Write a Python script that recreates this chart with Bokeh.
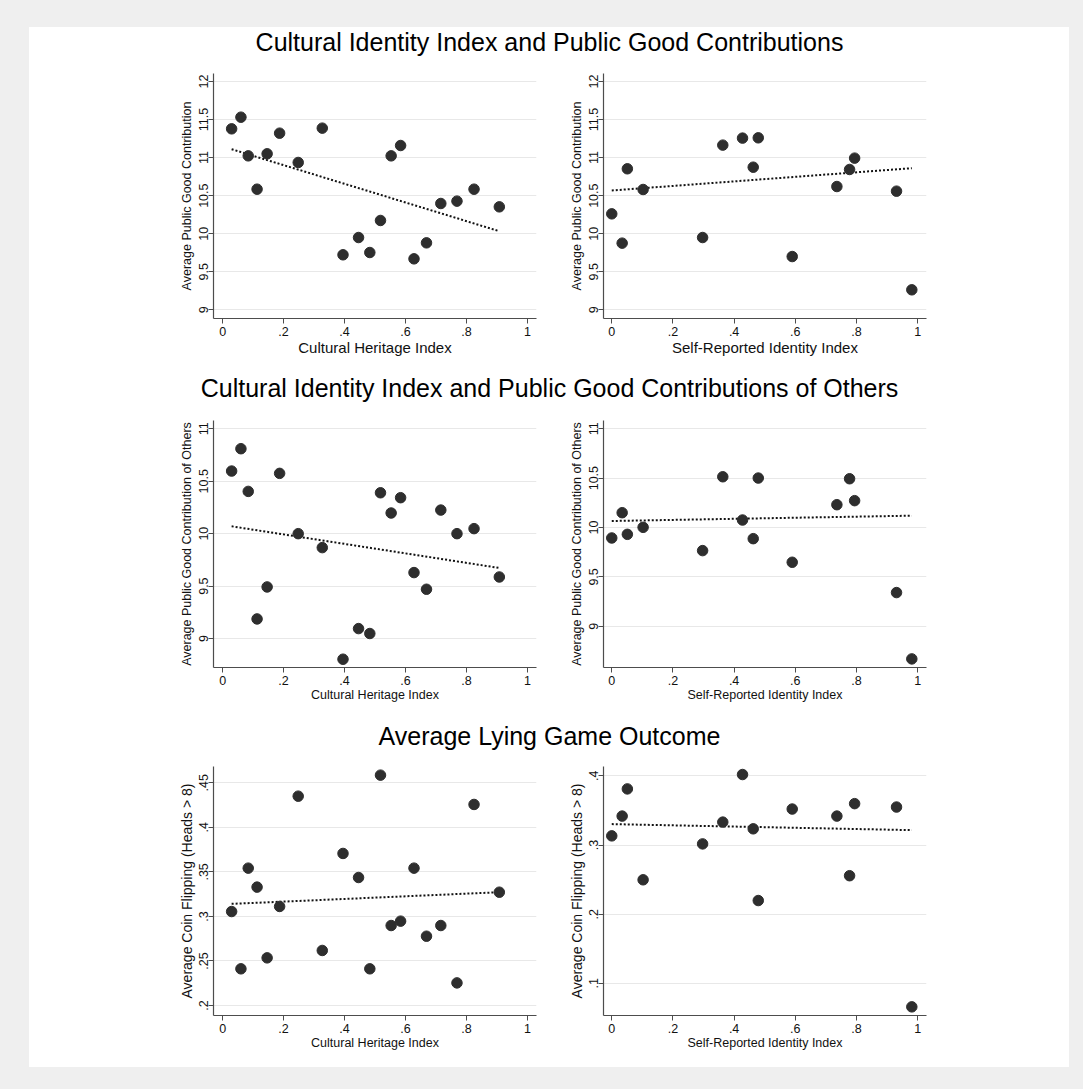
from bokeh.plotting import figure
from bokeh.layouts import column, row
from bokeh.models import Range1d, FixedTicker, Spacer
from bokeh.embed import file_html
from bokeh.resources import INLINE
from bokeh.core.properties import value

# ---------------- data ----------------
heritage_x = [0.0295, 0.060, 0.084, 0.113, 0.146, 0.187, 0.248, 0.327, 0.395, 0.446,
              0.483, 0.518, 0.553, 0.584, 0.628, 0.669, 0.716, 0.769, 0.825, 0.908]
identity_x = [0.0, 0.034, 0.051, 0.1025, 0.297, 0.363, 0.4275, 0.4625, 0.479, 0.590,
              0.736, 0.7775, 0.794, 0.931, 0.981]

pg_heritage = [11.378, 11.531, 11.023, 10.585, 11.05, 11.321, 10.936, 11.387, 9.723, 9.95,
               9.753, 10.174, 11.023, 11.159, 9.67, 9.88, 10.397, 10.428, 10.585, 10.353]
pg_identity = [10.261, 9.876, 10.853, 10.581, 9.95, 11.164, 11.256, 10.874, 11.26, 9.70,
               10.62, 10.844, 10.993, 10.559, 9.263]

pgo_heritage = [10.597, 10.81, 10.403, 9.187, 9.492, 10.575, 10.0, 9.867, 8.803, 9.095,
                9.048, 10.39, 10.197, 10.343, 9.629, 9.47, 10.225, 10.0, 10.048, 9.587]
pgo_identity = [9.894, 10.15, 9.931, 10.002, 9.766, 10.514, 10.076, 9.887, 10.501, 9.648,
                10.231, 10.494, 10.272, 9.341, 8.669]

coin_heritage = [0.3055, 0.2412, 0.3542, 0.3329, 0.2535, 0.3112, 0.435, 0.2618, 0.3707, 0.3437,
                 0.2412, 0.4586, 0.2898, 0.2947, 0.3542, 0.2778, 0.2898, 0.2254, 0.4257, 0.3272]
coin_identity = [0.3132, 0.3418, 0.3811, 0.2497, 0.3016, 0.3331, 0.4019, 0.3234, 0.2197, 0.352,
                 0.3418, 0.2556, 0.3598, 0.3549, 0.066]

# fitted-line values at the smallest and largest x of each panel
fit_pg_heritage = [11.11, 10.033]
fit_pg_identity = [10.568, 10.861]
fit_pgo_heritage = [10.07, 9.673]
fit_pgo_identity = [10.066, 10.12]
fit_coin_heritage = [0.3141, 0.3272]
fit_coin_identity = [0.3302, 0.3215]

row_titles = ["Cultural Identity Index and Public Good Contributions",
              "Cultural Identity Index and Public Good Contributions of Others",
              "Average Lying Game Outcome"]
x_titles = ["Cultural Heritage Index", "Self-Reported Identity Index"]
y_titles = ["Average Public Good Contribution",
            "Average Public Good Contribution of Others",
            "Average Coin Flipping (Heads > 8)"]

x_ticks = [0, 0.2, 0.4, 0.6, 0.8, 1]
x_tick_labels = ["0", ".2", ".4", ".6", ".8", "1"]
pg_ticks = [9, 9.5, 10, 10.5, 11, 11.5, 12]
pg_tick_labels = ["9", "9.5", "10", "10.5", "11", "11.5", "12"]
pgo_ticks = [9, 9.5, 10, 10.5, 11]
pgo_tick_labels = ["9", "9.5", "10", "10.5", "11"]
coin_h_ticks = [0.2, 0.25, 0.3, 0.35, 0.4, 0.45]
coin_h_tick_labels = [".2", ".25", ".3", ".35", ".4", ".45"]
coin_i_ticks = [0.1, 0.2, 0.3, 0.4]
coin_i_tick_labels = [".1", ".2", ".3", ".4"]

# ---------------- styling ----------------
FONT = "Liberation Sans"
BG = "#efefef"
MARK = "#2e2e2e"
AXIS = "#4d4d4d"
GRID = "#e8e8e8"


def panel(x, y, fit, xr, yr, yticks, ylabels, xlabel, ylabel, width, height,
          bl, br, bt, bb, xl_size, yl_size, x_sd, y_sd):
    p = figure(width=width, height=height, x_range=Range1d(*xr), y_range=Range1d(*yr),
               output_backend="svg", toolbar_location=None,
               min_border_left=bl, min_border_right=br, min_border_top=bt, min_border_bottom=bb)
    p.outline_line_color = None
    p.background_fill_color = "white"
    p.border_fill_color = "white"
    p.xgrid.visible = False
    p.ygrid.ticker = FixedTicker(ticks=yticks)
    p.ygrid.grid_line_color = GRID
    p.ygrid.grid_line_width = 1

    p.xaxis.ticker = FixedTicker(ticks=x_ticks)
    p.xaxis.major_label_overrides = dict(zip(x_ticks, x_tick_labels))
    p.yaxis.ticker = FixedTicker(ticks=yticks)
    p.yaxis.major_label_overrides = dict(zip(yticks, ylabels))
    p.yaxis.major_label_orientation = "vertical"

    for ax in (p.xaxis, p.yaxis):
        ax.axis_line_color = AXIS
        ax.axis_line_width = 1.2
        ax.major_tick_line_color = AXIS
        ax.major_tick_line_width = 1
        ax.major_tick_out = 5
        ax.major_tick_in = 0
        ax.minor_tick_line_color = None
        ax.major_label_text_font = FONT
        ax.major_label_text_font_size = "12.5px"
        ax.major_label_text_color = "#111111"
        ax.axis_label_text_font = FONT
        ax.axis_label_text_font_style = "normal"
        ax.axis_label_text_color = "#111111"
    p.xaxis.major_label_standoff = 3
    p.yaxis.major_label_standoff = 0
    p.xaxis.axis_label = xlabel
    p.yaxis.axis_label = ylabel
    p.xaxis.axis_label_text_font_size = xl_size
    p.yaxis.axis_label_text_font_size = yl_size
    p.xaxis.axis_label_standoff = x_sd
    p.yaxis.axis_label_standoff = y_sd

    p.line([min(x), max(x)], fit, line_color="#111111", line_width=2, line_dash="2 2")
    p.scatter(x, y, size=10.5, fill_color=MARK, line_color=MARK)
    return p


def title_fig(text, h, center):
    t = figure(width=1040, height=h, x_range=Range1d(0, 1040), y_range=Range1d(0, h),
               output_backend="svg", toolbar_location=None, min_border=0,
               x_axis_location=None, y_axis_location=None)
    t.grid.visible = False
    t.outline_line_color = None
    t.background_fill_color = "white"
    t.border_fill_color = "white"
    t.text(x=[520], y=[h - center], text=[text], text_font=value(FONT),
           text_font_size="25px", text_align="center", text_baseline="middle",
           text_color="black")
    return t


XL = (-0.03, 1.03)
XR = (-0.027, 1.029)
LW, RW = 526, 514

# row 1 (page y 60..360, frame 73..318)
p1 = panel(heritage_x, pg_heritage, fit_pg_heritage, XL, (8.886, 12.105), pg_ticks, pg_tick_labels,
           x_titles[0], y_titles[0], LW, 300, 184, 19, 13, 42, "15px", "12.5px", 0, 3)
p2 = panel(identity_x, pg_identity, fit_pg_identity, XR, (8.886, 12.105), pg_ticks, pg_tick_labels,
           x_titles[1], y_titles[0], RW, 300, 48, 143, 13, 42, "15px", "12.5px", 0, 3)
# row 2 (page y 410..705, frame 420..667)
p3 = panel(heritage_x, pgo_heritage, fit_pgo_heritage, XL, (8.724, 11.079), pgo_ticks, pgo_tick_labels,
           x_titles[0], y_titles[1], LW, 295, 184, 19, 10, 38, "12.5px", "12.5px", 0, 3)
p4 = panel(identity_x, pgo_identity, fit_pgo_identity, XR, (8.582, 11.084), pgo_ticks, pgo_tick_labels,
           x_titles[1], y_titles[1], RW, 295, 48, 143, 10, 38, "12.5px", "12.5px", 0, 3)
# row 3 (page y 755..1067, frame 766..1015)
p5 = panel(heritage_x, coin_heritage, fit_coin_heritage, XL, (0.1888, 0.4683), coin_h_ticks, coin_h_tick_labels,
           x_titles[0], y_titles[2], LW, 312, 184, 19, 11, 52, "12.5px", "14px", 0, 2)
p6 = panel(identity_x, coin_identity, fit_coin_identity, XR, (0.0535, 0.4135), coin_i_ticks, coin_i_tick_labels,
           x_titles[1], y_titles[2], RW, 312, 48, 143, 11, 52, "12.5px", "14px", 0, 2)

t1 = title_fig(row_titles[0], 33, 14)   # page y 27..60
t2 = title_fig(row_titles[1], 50, 27)   # page y 360..410
t3 = title_fig(row_titles[2], 50, 30)   # page y 705..755

inner = column(t1, row(p1, p2, spacing=0), t2, row(p3, p4, spacing=0), t3, row(p5, p6, spacing=0),
               spacing=0, styles={"background-color": "white"})
outer = column(Spacer(width=1083, height=27),
               row(Spacer(width=29, height=1040), inner, Spacer(width=14, height=1040), spacing=0),
               Spacer(width=1083, height=22),
               spacing=0, styles={"background-color": BG})

open("out.html", "w").write(file_html(outer, INLINE))
